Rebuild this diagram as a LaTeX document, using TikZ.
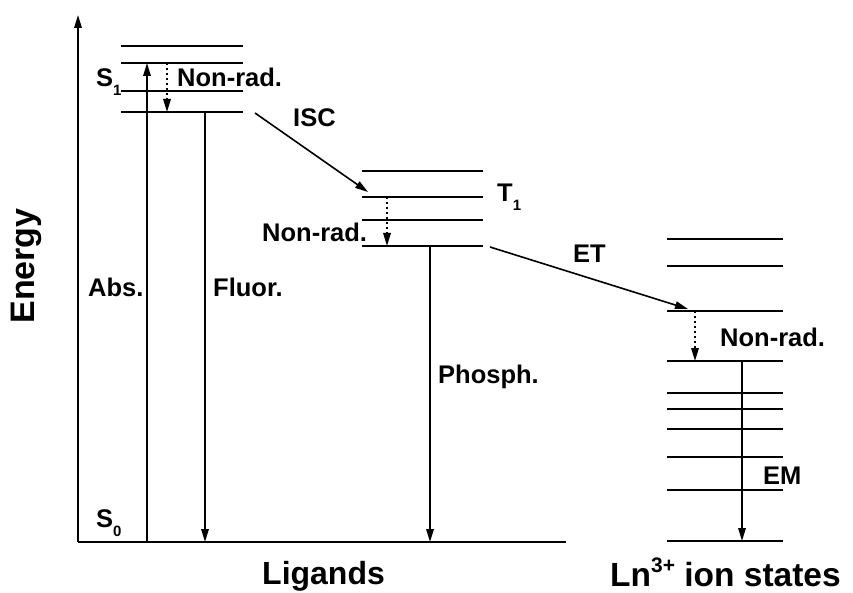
\documentclass[tikz,border=0pt]{standalone}
\usepackage{fontspec}
\setmainfont{Liberation Sans}
\usetikzlibrary{arrows.meta,positioning,calc}

\newcommand{\lowsub}[1]{\raisebox{-9pt}{\fontsize{15}{15}\selectfont #1}}

\begin{document}
\begin{tikzpicture}[x=1pt,y=-1pt,>={Triangle[length=13pt,width=7.5pt]},
                    axis/.style={line width=1.8pt},
                    level/.style={line width=1.9pt},
                    ground/.style={line width=2.9pt},
                    trans/.style={->,line width=1.6pt},
                    relax/.style={->,line width=1.6pt,dash pattern=on 2pt off 3pt},
                    lab/.style={anchor=base west,inner sep=0pt,
                                font=\fontsize{25.5}{30}\selectfont\bfseries},
                    title/.style={font=\fontsize{32}{36}\selectfont\bfseries}]
  \useasboundingbox (0,0) rectangle (853,593);
  % axes
  \coordinate (O) at (78,542);
  \coordinate (ytop) at (78,15);
  \coordinate (xend) at (566,542);
  \draw[axis,->] (O) -- (ytop);
  \draw[axis] (O) -- (xend);
  % ligand singlet levels
  \foreach \y/\n in {46/4,63/3,91/2,112/1}
    \draw[level] (121,\y) coordinate (s\n l) -- (243,\y) coordinate (s\n r);
  % ligand triplet levels
  \foreach \y/\n in {171/4,197/3,220/2,246/1}
    \draw[level] (362,\y) coordinate (t\n l) -- (483,\y) coordinate (t\n r);
  % Ln ion levels
  \foreach \y/\n in {239/9,266/8,311/7,393/5,409/4,429/3,457/2,490/1}
    \draw[level] (667,\y) coordinate (l\n l) -- (783,\y) coordinate (l\n r);
  \draw[ground] (667,361) coordinate (l6l) -- (783,361) coordinate (l6r);
  \draw[ground] (667,541) coordinate (l0l) -- (783,541) coordinate (l0r);
  % transition end points
  \coordinate (abs0) at (147,542);
  \coordinate (abs1) at (147,63);
  \coordinate (nr1a) at (167,63);
  \coordinate (nr1b) at (167,112);
  \coordinate (fl0) at (205,112);
  \coordinate (fl1) at (205,542);
  \coordinate (isc0) at (255,113);
  \coordinate (isc1) at (368,192);
  \coordinate (nr2a) at (387,197);
  \coordinate (nr2b) at (387,246);
  \coordinate (ph0) at (430,246);
  \coordinate (ph1) at (430,542);
  \coordinate (et0) at (490,247);
  \coordinate (et1) at (688,309);
  \coordinate (nr3a) at (695,311);
  \coordinate (nr3b) at (695,361);
  \coordinate (em0) at (742,361);
  \coordinate (em1) at (742,541);
  % transitions
  \draw[trans] (abs0) -- (abs1);
  \draw[relax] (nr1a) -- (nr1b);
  \draw[trans] (fl0) -- (fl1);
  \draw[trans] (isc0) -- (isc1);
  \draw[relax] (nr2a) -- (nr2b);
  \draw[trans] (ph0) -- (ph1);
  \draw[trans] (et0) -- (et1);
  \draw[relax] (nr3a) -- (nr3b);
  \draw[trans] (em0) -- (em1);
  % labels
  \node[lab] (S1) at (96,87) {S\lowsub{1}};
  \node[lab] (S0) at (96,527) {S\lowsub{0}};
  \node[lab] (nrad1) at (177,87) {Non-rad.};
  \node[lab] (abs) at (88,297) {Abs.};
  \node[lab] (fluor) at (213,297) {Fluor.};
  \node[lab] (isc) at (293,127) {ISC};
  \node[lab] (T1) at (497,202) {T\lowsub{1}};
  \node[lab] (nrad2) at (262,242) {Non-rad.};
  \node[lab] (phos) at (438,383) {Phosph.};
  \node[lab] (et) at (573,263) {ET};
  \node[lab] (nrad3) at (720,346) {Non-rad.};
  \node[lab] (em) at (763,484) {EM};
  \node[title, rotate=90, font=\fontsize{34}{36}\selectfont\bfseries] (energy) at (26,266) {Energy};
  \node[title, anchor=base west, inner sep=0pt] (lig) at (262,584) {Ligands};
  \node[title, anchor=base west, inner sep=0pt, font=\fontsize{33.5}{38}\selectfont\bfseries] (ln) at (610,586)
    {Ln\raisebox{14pt}{\fontsize{21}{21}\selectfont 3+} ion states};
\end{tikzpicture}
\end{document}
